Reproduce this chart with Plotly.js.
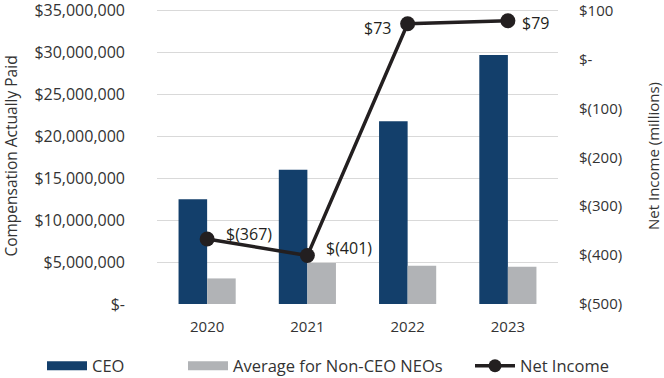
<!DOCTYPE html>
<html>
<head>
<meta charset="utf-8">
<script src="https://cdn.plot.ly/plotly-3.0.1.min.js"></script>
<style>html,body{margin:0;padding:0;background:#fff;}#chart{width:664px;height:378px;}</style>
</head>
<body>
<div id="chart"></div>
<script>
const years = ['2020', '2021', '2022', '2023'];
const ceoPay = [12500000, 16000000, 21800000, 29700000];
const neoPay = [3050000, 4900000, 4570000, 4450000];
const netIncome = [-367, -401, 73, 79];

const leftTickVals = [0, 5000000, 10000000, 15000000, 20000000, 25000000, 30000000, 35000000];
const leftTickText = ['$-', '$5,000,000', '$10,000,000', '$15,000,000', '$20,000,000', '$25,000,000', '$30,000,000', '$35,000,000'];
const rightTickVals = [-500, -400, -300, -200, -100, 0, 100];
const rightTickText = ['$(500)', '$(400)', '$(300)', '$(200)', '$(100)', '$-', '$100'];

// label placement (style only): anchor side and pixel shifts
const labelAnchor = ['left', 'left', 'right', 'left'];
const labelShiftX = [17, 17, -15, 12];
const labelShiftY = [5, 8, -4, -2];

const NAVY = '#133f6b';
const GREY = '#b1b3b6';
const INK = '#231f20';
const TXT = '#333333';
const FONT = 'Open Sans, Noto Sans, sans-serif';

function money(v) { return v < 0 ? '$(' + (-v) + ')' : '$' + v; }

const traces = [
  {type: 'bar', name: 'CEO', x: years, y: ceoPay, marker: {color: NAVY}, showlegend: false},
  {type: 'bar', name: 'Average for Non-CEO NEOs', x: years, y: neoPay, marker: {color: GREY}, showlegend: false},
  {type: 'scatter', mode: 'lines+markers', name: 'Net Income', x: years, y: netIncome, yaxis: 'y2',
   line: {color: INK, width: 3.5}, marker: {color: INK, size: 15}, showlegend: false, cliponaxis: false},
  // legend entries
  {type: 'scatter', mode: 'lines', name: 'CEO', x: [null], y: [null], line: {color: NAVY, width: 9}, legend: 'legend'},
  {type: 'scatter', mode: 'lines', name: 'Average for Non-CEO NEOs', x: [null], y: [null], line: {color: GREY, width: 9}, legend: 'legend2'},
  {type: 'scatter', mode: 'lines+markers', name: 'Net Income', x: [null], y: [null], line: {color: INK, width: 3.5}, marker: {color: INK, size: 13}, legend: 'legend3'}
];

const annotations = years.map((yr, i) => ({
  x: i, y: netIncome[i], xref: 'x', yref: 'y2', text: money(netIncome[i]), showarrow: false,
  xanchor: labelAnchor[i], yanchor: 'middle', xshift: labelShiftX[i], yshift: labelShiftY[i],
  font: {family: FONT, size: 16, color: INK}
}));

const legendBase = {orientation: 'h', xref: 'container', yref: 'container', xanchor: 'left', yanchor: 'middle', y: 0.0317,
  itemwidth: 40, font: {family: FONT, size: 16.5, color: TXT}, bgcolor: 'rgba(0,0,0,0)'};

const layout = {
  width: 664, height: 378,
  margin: {l: 157, r: 106, t: 8, b: 74},
  paper_bgcolor: '#fff', plot_bgcolor: '#fff',
  font: {family: FONT, size: 15, color: TXT},
  barmode: 'group', bargap: 0.43, bargroupgap: 0,
  xaxis: {type: 'category', range: [-0.5, 3.5], showgrid: false, zeroline: false, showline: false, ticks: '',
    ticklabelstandoff: 12, tickfont: {family: FONT, size: 15, color: TXT}},
  yaxis: {range: [0, 35298000], tickmode: 'array', tickvals: leftTickVals, ticktext: leftTickText,
    ticklabeloverflow: 'allow',
    showgrid: true, gridcolor: '#d9d9d9', gridwidth: 1, zeroline: false, showline: false, ticks: '',
    ticklabelstandoff: 31, tickfont: {family: FONT, size: 16, color: TXT},
    title: {text: 'Compensation Actually Paid', font: {family: FONT, size: 15.5, color: TXT}, standoff: 12}},
  yaxis2: {range: [-500, 105.1], overlaying: 'y', side: 'right', tickmode: 'array', tickvals: rightTickVals, ticktext: rightTickText,
    ticklabeloverflow: 'allow',
    showgrid: false, zeroline: false, showline: false, ticks: '', ticklabelstandoff: 20,
    tickfont: {family: FONT, size: 15, color: TXT},
    title: {text: 'Net Income (millions)', font: {family: FONT, size: 15, color: TXT}, standoff: 27}},
  legend: Object.assign({}, legendBase, {x: 42 / 664}),
  legend2: Object.assign({}, legendBase, {x: 183 / 664}),
  legend3: Object.assign({}, legendBase, {x: 470 / 664}),
  annotations: annotations,
  showlegend: true
};

Plotly.newPlot('chart', traces, layout, {displayModeBar: false, staticPlot: true});
</script>
</body>
</html>
